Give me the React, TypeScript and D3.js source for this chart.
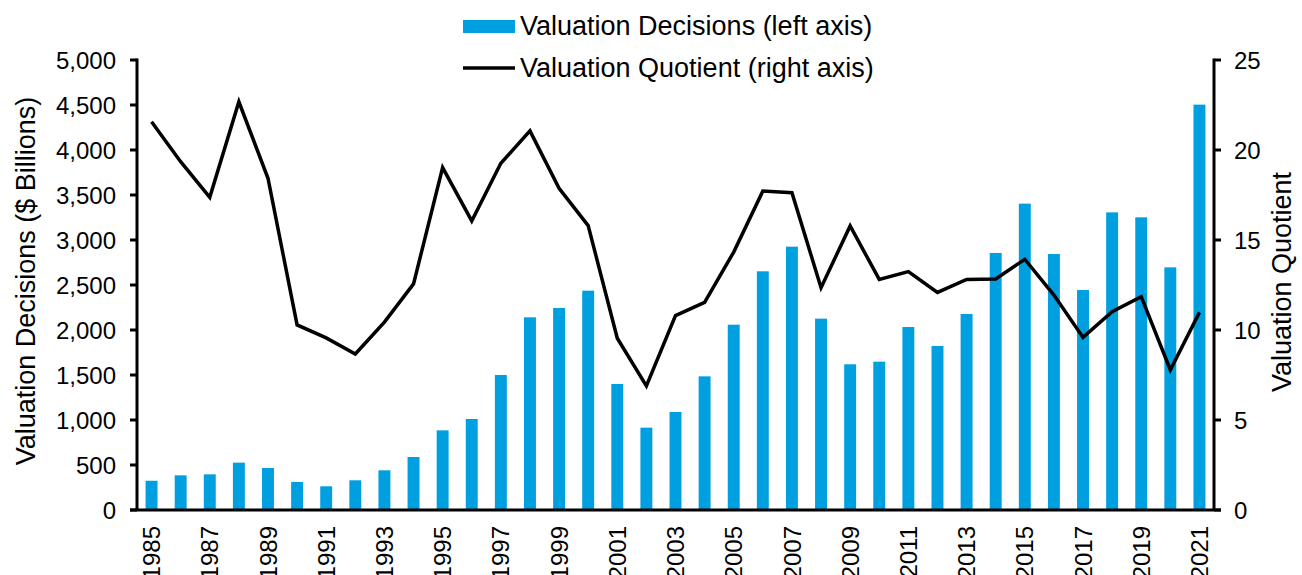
import React from "react";
import * as d3 from "d3";

const years = d3.range(1985, 2022).map(String);
const decisions = [325, 385, 396, 526, 467, 311, 263, 330, 441, 589, 885, 1011, 1500, 2141, 2244, 2437, 1400, 915, 1089, 1485, 2059, 2652, 2926, 2126, 1619, 1648, 2033, 1822, 2178, 2856, 3404, 2844, 2444, 3307, 3252, 2696, 4504];
const quotient = [21.57, 19.35, 17.37, 22.68, 18.43, 10.28, 9.56, 8.67, 10.44, 12.56, 19.02, 16.06, 19.26, 21.06, 17.87, 15.8, 9.54, 6.89, 10.8, 11.54, 14.33, 17.72, 17.63, 12.35, 15.78, 12.81, 13.24, 12.09, 12.81, 12.83, 13.93, 11.94, 9.59, 11.02, 11.85, 7.78, 10.98];
const leftTicks = [0, 500, 1000, 1500, 2000, 2500, 3000, 3500, 4000, 4500, 5000];
const rightTicks = [0, 5, 10, 15, 20, 25];
const legendLabels = ["Valuation Decisions (left axis)", "Valuation Quotient (right axis)"];

const W = 1302, H = 575;
const M = { left: 137, right: 1214, top: 60, bottom: 510 };
const BLUE = "#009FDF";
const FONT = "'Liberation Sans', Arial, sans-serif";

export default function App() {
  const x = d3.scaleBand<string>().domain(years).range([M.left, M.right]).paddingInner(0.59).paddingOuter(0.295);
  const yL = d3.scaleLinear().domain([0, 5000]).range([M.bottom, M.top]);
  const yR = d3.scaleLinear().domain([0, 25]).range([M.bottom, M.top]);
  const xc = (d: string) => (x(d) as number) + x.bandwidth() / 2;
  const line = d3.line<number>().x((_, i) => xc(years[i])).y((d) => yR(d));
  const fmt = d3.format(",");
  const fs = 24;
  const ts = 27;
  return (
    <svg width={W} height={H} style={{ position: "absolute", left: 0, top: 0, background: "#fff" }} fontFamily={FONT}>
      {/* bars */}
      {decisions.map((v, i) => (
        <rect key={years[i]} x={x(years[i])} y={yL(v)} width={x.bandwidth()} height={yL(0) - yL(v)} fill={BLUE} />
      ))}
      {/* line */}
      <path d={line(quotient) || ""} fill="none" stroke="#000" strokeWidth={3.5} strokeLinejoin="miter" />
      {/* left axis */}
      <line x1={M.left} x2={M.left} y1={M.top - 1.5} y2={M.bottom} stroke="#000" strokeWidth={3} />
      {leftTicks.map((t) => (
        <g key={t}>
          <line x1={M.left - 7} x2={M.left} y1={yL(t)} y2={yL(t)} stroke="#000" strokeWidth={3} />
          <text x={M.left - 21} y={yL(t)} dy="0.36em" textAnchor="end" fontSize={fs} fill="#000">{fmt(t)}</text>
        </g>
      ))}
      {/* right axis */}
      <line x1={M.right} x2={M.right} y1={M.top - 1.5} y2={M.bottom} stroke="#000" strokeWidth={3} />
      {rightTicks.map((t) => (
        <g key={t}>
          <line x1={M.right} x2={M.right + 7} y1={yR(t)} y2={yR(t)} stroke="#000" strokeWidth={3} />
          <text x={M.right + 20} y={yR(t)} dy="0.36em" textAnchor="start" fontSize={fs} fill="#000">{t}</text>
        </g>
      ))}
      {/* bottom axis */}
      <line x1={M.left - 7} x2={M.right + 7} y1={M.bottom} y2={M.bottom} stroke="#000" strokeWidth={3} />
      {years.map((yr, i) =>
        i % 2 === 0 ? (
          <text key={yr} transform={`translate(${xc(yr)},${M.bottom + 16}) rotate(-90)`} dy="0.36em" textAnchor="end" fontSize={fs} fill="#000">{yr}</text>
        ) : null
      )}
      {/* axis titles */}
      <text transform={`translate(35,281) rotate(-90)`} textAnchor="middle" fontSize={ts} fill="#000">Valuation Decisions ($ Billions)</text>
      <text transform={`translate(1291,282) rotate(-90)`} textAnchor="middle" fontSize={ts} fill="#000">Valuation Quotient</text>
      {/* legend */}
      <rect x={463} y={20} width={52} height={13} fill={BLUE} />
      <text x={520} y={34.5} fontSize={ts} fill="#000">{legendLabels[0]}</text>
      <line x1={463} x2={515} y1={68} y2={68} stroke="#000" strokeWidth={3.5} />
      <text x={520} y={76.5} fontSize={ts} fill="#000">{legendLabels[1]}</text>
    </svg>
  );
}
